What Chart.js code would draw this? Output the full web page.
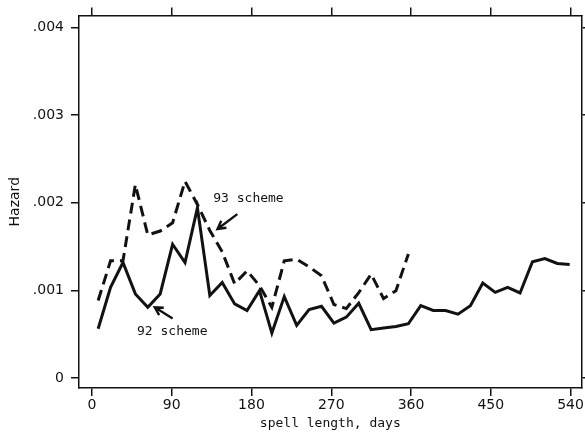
<!DOCTYPE html>
<html>
<head>
<meta charset="utf-8">
<script src="https://cdn.jsdelivr.net/npm/chart.js@4"></script>
<style>
  html, body { margin: 0; padding: 0; background: #fff; }
  canvas { display: block; }
</style>
</head>
<body>
<canvas id="chart" width="585" height="434"></canvas>
<script>
// Datos (duración del periodo en días, tasa de riesgo)
const days = [7, 21, 35, 49, 63, 77, 91, 105, 119, 133, 147, 161, 175, 189, 203, 217, 231, 245, 259, 273,
              287, 301, 315, 329, 343, 357, 371, 385, 399, 413, 427, 441, 455, 469, 483, 497, 511, 525, 539];
const scheme92 = [0.000563, 0.001035, 0.001318, 0.000960, 0.000808, 0.000960, 0.001526, 0.001318, 0.001941, 0.000941,
                  0.001091, 0.000846, 0.000771, 0.000997, 0.000513, 0.000929, 0.000601, 0.000782, 0.000819, 0.000627,
                  0.000695, 0.000853, 0.000552, 0.000572, 0.000589, 0.000620, 0.000827, 0.000771, 0.000771, 0.000729,
                  0.000824, 0.001084, 0.000978, 0.001035, 0.000971, 0.001326, 0.001363, 0.001307, 0.001295];
const scheme93 = [0.000884, 0.001337, 0.001337, 0.002206, 0.001632, 0.001677, 0.001771, 0.002244, 0.001980, 0.001683,
                  0.001439, 0.001076, 0.001224, 0.001054, 0.000808, 0.001337, 0.001356, 0.001269, 0.001167, 0.000839,
                  0.000793, 0.000975, 0.001186, 0.000907, 0.000997, 0.001416];
const xTicks = [0, 90, 180, 270, 360, 450, 540];
const yTicks = [0, 0.001, 0.002, 0.003, 0.004];
const yTickLabels = ['0', '.001', '.002', '.003', '.004'];

const ink = '#121212';

// Etiquetas con flecha (posición en unidades de los datos)
const notes = [
    { text: '93 scheme', x: 176.6, y: 0.00205, from: [164, 0.00187], to: [141.7, 0.00170] },
    { text: '92 scheme', x: 90.6, y: 0.000533, from: [91, 0.00068], to: [70.9, 0.000808] }
];

function toPoints(values) {
    return values.map((v, i) => ({ x: days[i], y: v }));
}

const notesPlugin = {
    id: 'notes',
    afterDatasetsDraw(chart) {
        const { ctx, scales: { x, y } } = chart;
        ctx.save();
        ctx.fillStyle = ink;
        ctx.strokeStyle = ink;
        ctx.font = '13px "DejaVu Sans Mono"';
        ctx.textAlign = 'center';
        ctx.textBaseline = 'middle';
        notes.forEach(n => {
            ctx.fillText(n.text, x.getPixelForValue(n.x), y.getPixelForValue(n.y));
            const x1 = x.getPixelForValue(n.from[0]), y1 = y.getPixelForValue(n.from[1]);
            const x2 = x.getPixelForValue(n.to[0]), y2 = y.getPixelForValue(n.to[1]);
            const ang = Math.atan2(y2 - y1, x2 - x1);
            ctx.lineWidth = 2.4;
            ctx.beginPath();
            ctx.moveTo(x1, y1);
            ctx.lineTo(x2, y2);
            ctx.moveTo(x2 - 9 * Math.cos(ang - 0.5), y2 - 9 * Math.sin(ang - 0.5));
            ctx.lineTo(x2, y2);
            ctx.lineTo(x2 - 9 * Math.cos(ang + 0.5), y2 - 9 * Math.sin(ang + 0.5));
            ctx.stroke();
        });
        ctx.restore();
    }
};

function axisStyle(extra) {
    return Object.assign({
        grid: { drawOnChartArea: false, color: ink, lineWidth: 1.5, tickLength: 8 },
        border: { display: true, color: ink, width: 1.5 }
    }, extra);
}

const xRange = { type: 'linear', min: -14.6, max: 552.4,
    afterBuildTicks: scale => { scale.ticks = xTicks.map(v => ({ value: v })); } };
const yRange = { type: 'linear', min: -0.000113, max: 0.004136,
    afterBuildTicks: scale => { scale.ticks = yTicks.map(v => ({ value: v })); } };

new Chart(document.getElementById('chart'), {
    type: 'line',
    data: {
        datasets: [
            {
                label: '92 scheme',
                data: toPoints(scheme92),
                borderColor: ink,
                borderWidth: 3,
                pointRadius: 0,
                tension: 0,
                xAxisID: 'x',
                yAxisID: 'y'
            },
            {
                label: '93 scheme',
                data: toPoints(scheme93),
                borderColor: ink,
                borderWidth: 3,
                borderDash: [11, 6],
                pointRadius: 0,
                tension: 0,
                xAxisID: 'x',
                yAxisID: 'y'
            }
        ]
    },
    options: {
        responsive: false,
        animation: false,
        layout: { padding: { left: 0, right: 3, top: 0, bottom: 0 } },
        plugins: {
            legend: { display: false },
            tooltip: { enabled: false }
        },
        scales: {
            x: axisStyle(Object.assign({}, xRange, {
                position: 'bottom',
                afterFit: scale => { scale.height = 46; },
                ticks: { color: ink, font: { family: 'DejaVu Sans', size: 14 }, padding: 1, maxRotation: 0 },
                title: { display: true, text: 'spell length, days', color: ink,
                         font: { family: 'DejaVu Sans Mono', size: 13 }, padding: { top: 0, bottom: 3 } }
            })),
            x2: axisStyle(Object.assign({}, xRange, {
                position: 'top',
                afterFit: scale => { scale.height = 13; },
                ticks: { display: false }
            })),
            y: axisStyle(Object.assign({}, yRange, {
                position: 'left',
                afterFit: scale => { scale.width = 79; },
                ticks: { color: ink, font: { family: 'DejaVu Sans', size: 14 }, padding: 7,
                         callback: (value, index) => yTickLabels[index] },
                title: { display: true, text: 'Hazard', color: ink,
                         font: { family: 'DejaVu Sans', size: 14 }, padding: { top: 7, bottom: 0 } }
            })),
            y2: axisStyle(Object.assign({}, yRange, {
                position: 'right',
                afterFit: scale => { scale.width = 0; },
                ticks: { display: false }
            }))
        }
    },
    plugins: [notesPlugin]
});
</script>
</body>
</html>
